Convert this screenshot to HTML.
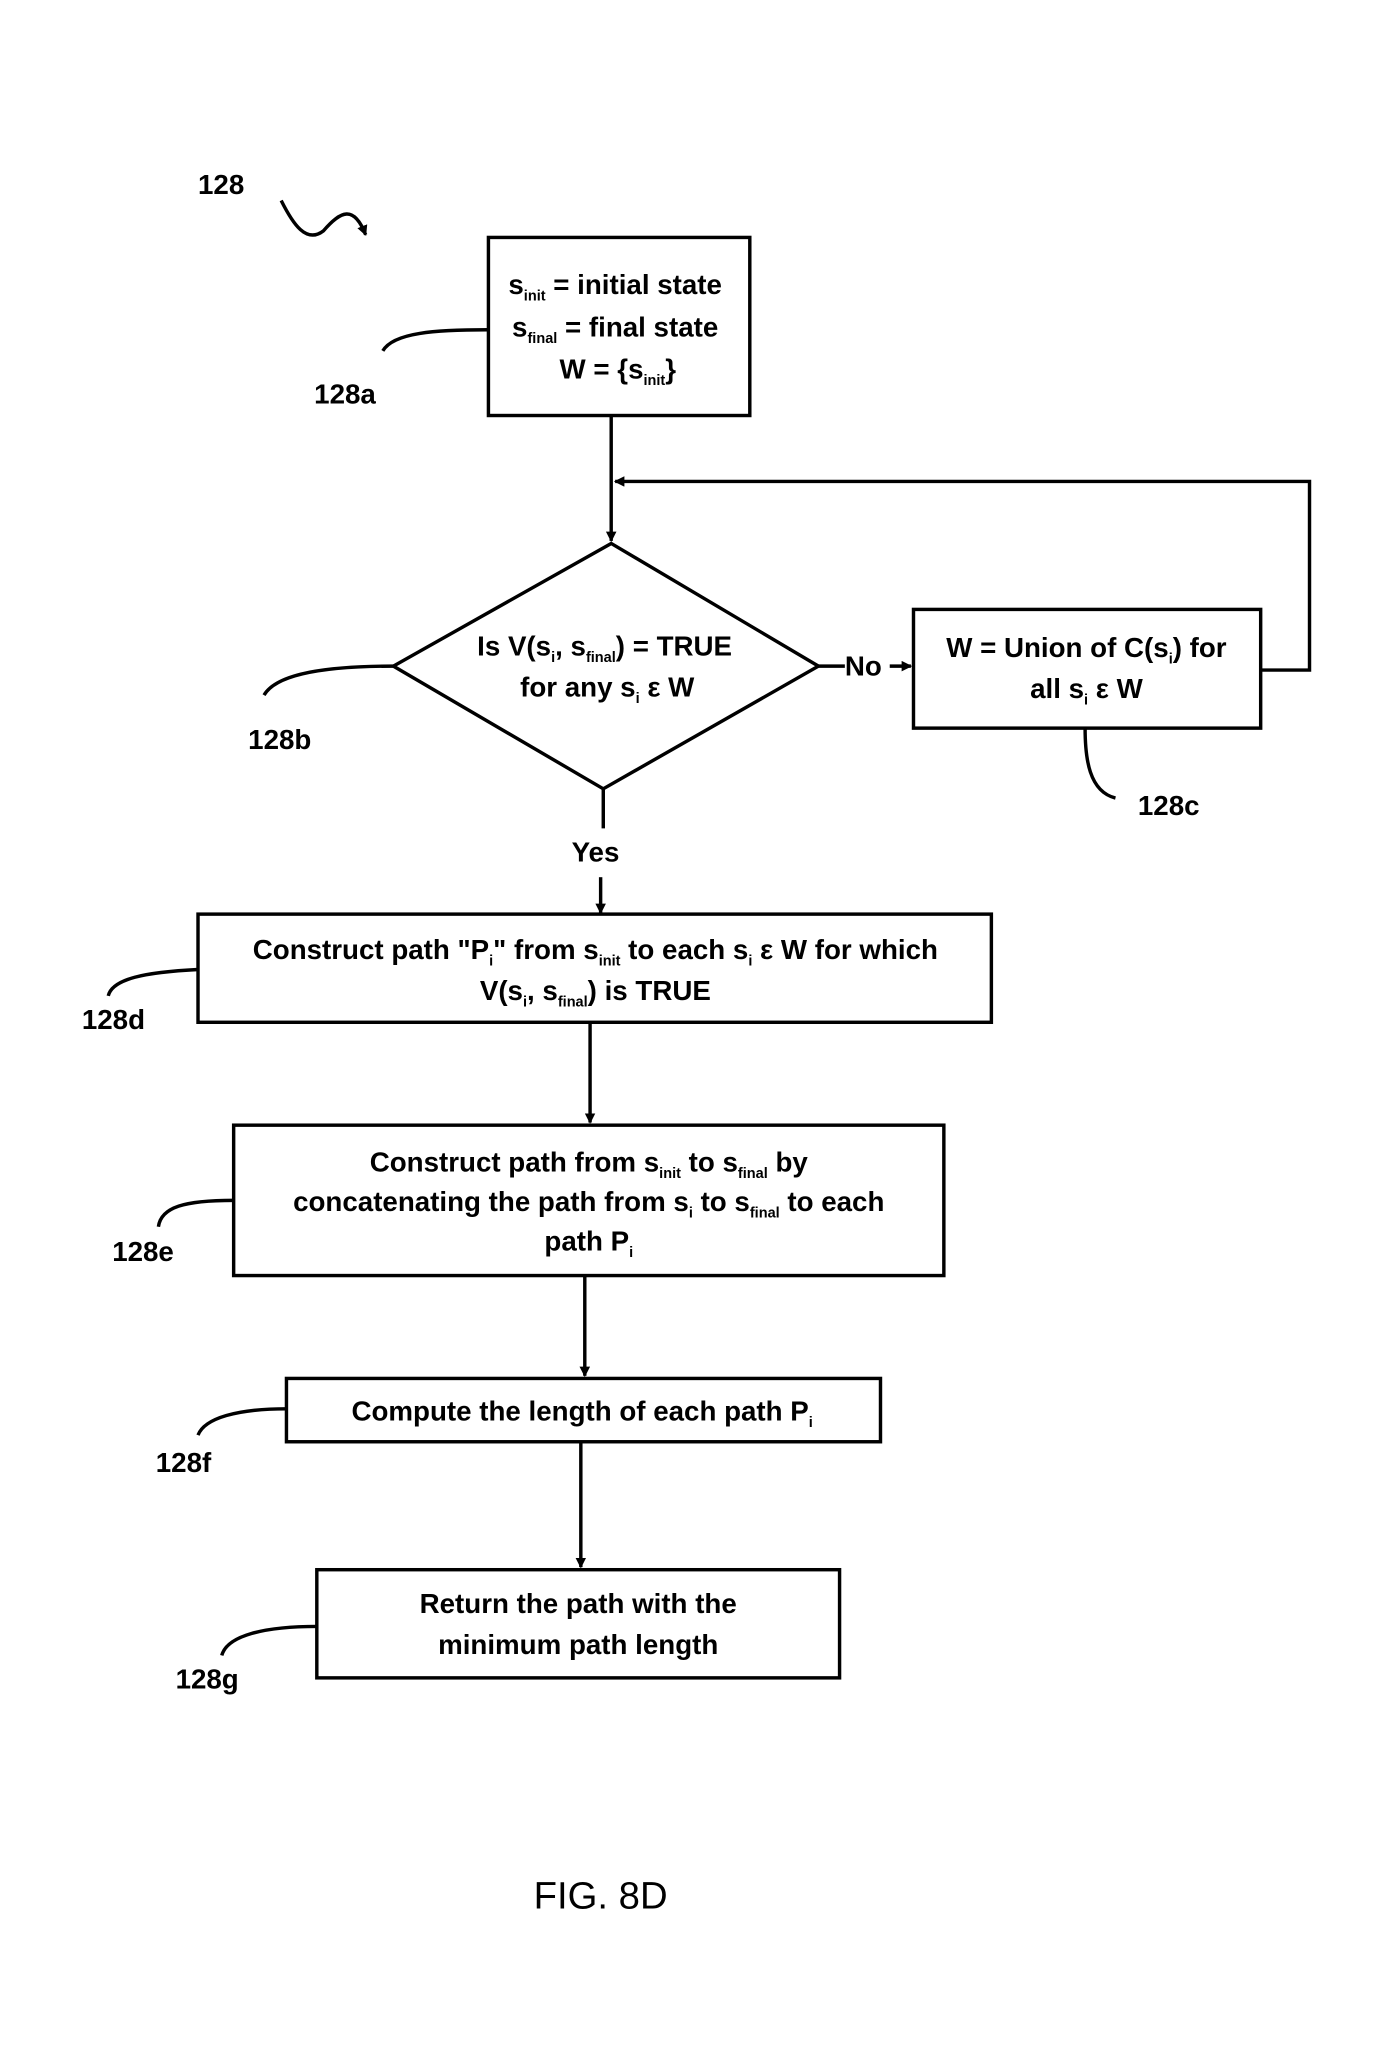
<!DOCTYPE html>
<html><head><meta charset="utf-8"><style>
html,body{margin:0;padding:0;background:#fff;}
svg{display:block;}
text{font-family:"Liberation Sans",sans-serif;font-weight:bold;fill:#000;}
.t{font-size:21px;text-anchor:middle;}
.s{font-size:11px;}
.l{font-size:21px;}
</style></head><body>
<svg width="1394" height="2067" viewBox="0 0 1056 1567" preserveAspectRatio="none" xmlns="http://www.w3.org/2000/svg">
<defs><marker id="a" markerWidth="8" markerHeight="8" refX="7" refY="4" orient="auto" markerUnits="userSpaceOnUse"><path d="M0,0 L8,4 L0,8 z" fill="#000"/></marker></defs>
<g fill="none" stroke="#000" stroke-width="2.6">
<path d="M213,152 C222,170 232,185 245,175 C258,160 268,155 277,178" marker-end="url(#a)"/>
<rect x="370" y="180" width="198" height="135"/>
<path d="M370,250 C330,250 298,252 290,266"/>
<path d="M463,315 V410" marker-end="url(#a)"/>
<path d="M955,508 H992 V365 H466" marker-end="url(#a)"/>
<path d="M463,412 L620,505 L457,598 L298,505 Z"/>
<path d="M298,505 C250,505 210,510 200,527"/>
<path d="M620,505 H640"/><path d="M674,505 H690" marker-end="url(#a)"/>
<rect x="692" y="462" width="263" height="90"/>
<path d="M822,552 C822,575 825,600 845,605"/>
<path d="M457,598 V628"/><path d="M455,665 V692" marker-end="url(#a)"/>
<rect x="150" y="693" width="601" height="82"/>
<path d="M150,735 C110,737 85,742 82,755"/>
<path d="M447,775 V851" marker-end="url(#a)"/>
<rect x="177" y="853" width="538" height="114"/>
<path d="M177,910 C140,910 122,915 120,930"/>
<path d="M443,967 V1043" marker-end="url(#a)"/>
<rect x="217" y="1045" width="450" height="48"/>
<path d="M217,1068 C180,1068 155,1075 150,1088"/>
<path d="M440,1093 V1188" marker-end="url(#a)"/>
<rect x="240" y="1190" width="396" height="82"/>
<path d="M240,1233 C200,1233 172,1240 168,1255"/>
</g>
<text class="l" x="150" y="147">128</text>
<text class="l" x="238" y="306">128a</text>
<text class="l" x="188" y="568">128b</text>
<text class="l" x="862" y="618">128c</text>
<text class="l" x="62" y="780">128d</text>
<text class="l" x="85" y="956">128e</text>
<text class="l" x="118" y="1116">128f</text>
<text class="l" x="133" y="1280">128g</text>
<text class="t" x="466" y="223">s<tspan class="s" dy="5">init</tspan><tspan dy="-5"> = initial state</tspan></text>
<text class="t" x="466" y="255">s<tspan class="s" dy="5">final</tspan><tspan dy="-5"> = final state</tspan></text>
<text class="t" x="468" y="287">W = {s<tspan class="s" dy="5">init</tspan><tspan dy="-5">}</tspan></text>
<text class="t" x="458" y="497">Is V(s<tspan class="s" dy="5">i</tspan><tspan dy="-5">, s</tspan><tspan class="s" dy="5">final</tspan><tspan dy="-5">) = TRUE</tspan></text>
<text class="t" x="460" y="528">for any s<tspan class="s" dy="5">i</tspan><tspan dy="-5"> ε W</tspan></text>
<text class="l" x="640" y="512">No</text>
<text class="t" x="823" y="498">W = Union of C(s<tspan class="s" dy="5">i</tspan><tspan dy="-5">) for</tspan></text>
<text class="t" x="823" y="529">all s<tspan class="s" dy="5">i</tspan><tspan dy="-5"> ε W</tspan></text>
<text class="l" x="433" y="653">Yes</text>
<text class="t" x="451" y="727">Construct path "P<tspan class="s" dy="5">i</tspan><tspan dy="-5">" from s</tspan><tspan class="s" dy="5">init</tspan><tspan dy="-5"> to each s</tspan><tspan class="s" dy="5">i</tspan><tspan dy="-5"> ε W for which</tspan></text>
<text class="t" x="451" y="758">V(s<tspan class="s" dy="5">i</tspan><tspan dy="-5">, s</tspan><tspan class="s" dy="5">final</tspan><tspan dy="-5">) is TRUE</tspan></text>
<text class="t" x="446" y="888">Construct path from s<tspan class="s" dy="5">init</tspan><tspan dy="-5"> to s</tspan><tspan class="s" dy="5">final</tspan><tspan dy="-5"> by</tspan></text>
<text class="t" x="446" y="918">concatenating the path from s<tspan class="s" dy="5">i</tspan><tspan dy="-5"> to s</tspan><tspan class="s" dy="5">final</tspan><tspan dy="-5"> to each</tspan></text>
<text class="t" x="446" y="948">path P<tspan class="s" dy="5">i</tspan></text>
<text class="t" x="441" y="1077">Compute the length of each path P<tspan class="s" dy="5">i</tspan></text>
<text class="t" x="438" y="1223">Return the path with the</text>
<text class="t" x="438" y="1254">minimum path length</text>
<text x="455" y="1447" style="font-size:29px;font-weight:normal;text-anchor:middle">FIG. 8D</text>
</svg>
</body></html>
